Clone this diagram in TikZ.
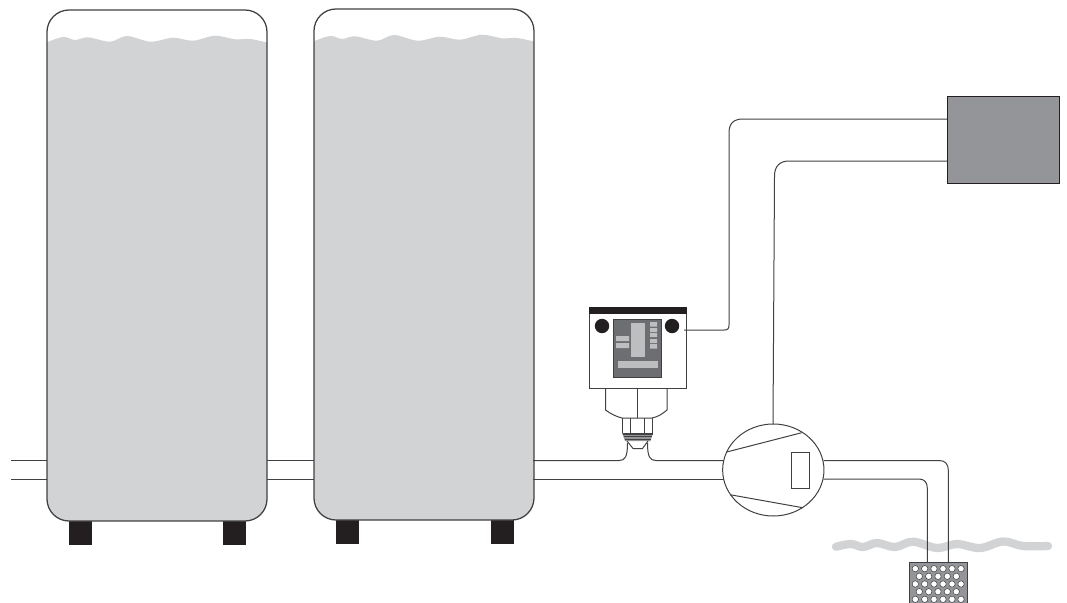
\documentclass[tikz,border=0pt]{standalone}
\usetikzlibrary{shapes.geometric}
\definecolor{tankgray}{HTML}{D1D3D4}
\definecolor{linegray}{HTML}{414042}
\definecolor{boxgray}{HTML}{939598}
\definecolor{panelgray}{HTML}{6D6E71}
\definecolor{barlight}{HTML}{BCBEC0}
\definecolor{legblack}{HTML}{231F20}
\newcommand{\tankwater}[2]{%
  \begin{scope}[shift={(#1,#2)}]
    \clip[rounded corners=16.5pt] (0,0) rectangle (220,511);
    \fill[tankgray] plot[smooth,tension=0.55] coordinates {(-2,33)(16,27)(28,30)(41,27.3)(63,31.7)(80,26)(103.7,31.7)(126,27.7)(146,30.7)(168,25.7)(188,29.3)(203,29)(222,33)}
       -- (222,520) -- (-2,520) -- cycle;
  \end{scope}}
\tikzset{
  pipe/.style={draw=linegray,line width=0.75pt},
  tank/.style={rectangle,rounded corners=16.5pt,draw=linegray,line width=0.95pt,inner sep=0pt,
     minimum width=165pt,minimum height=383.25pt},
  leg/.style={rectangle,fill=legblack,inner sep=0pt,minimum width=17.25pt,minimum height=18pt},
  lightbar/.style={fill=barlight},
  hole/.style={circle,draw=linegray,fill=white,line width=0.4pt,inner sep=0pt,minimum size=4.8pt},
  x=0.75pt,y=-0.75pt
}
\begin{document}
\begin{tikzpicture}
\useasboundingbox (0,0) rectangle (1067,603);
% pipe coordinates
\coordinate (inA) at (11,460.5);
\coordinate (inB) at (11,479);
\coordinate (tankALa) at (47,460.5);
\coordinate (tankALb) at (47,479);
\coordinate (tankARa) at (267,460.5);
\coordinate (tankARb) at (267,479);
\coordinate (tankBLa) at (315,460.5);
\coordinate (tankBLb) at (315,479);
\coordinate (tankBRa) at (533,460.5);
\coordinate (tankBRb) at (533,479);
\draw[pipe] (inA) -- (tankALa) (inB) -- (tankALb);
\draw[pipe] (tankARa) -- (tankBLa) (tankARb) -- (tankBLb);
% tanks
\node[leg] (legA1) at (80.5,533) {};
\node[leg] (legA2) at (234.5,533) {};
\node[leg] (legB1) at (347.5,532) {};
\node[leg] (legB2) at (502.5,532) {};
\tankwater{47}{10}
\tankwater{314}{9}
\node[tank] (tankA) at (157,265.5) {};
\node[tank] (tankB) at (424,264.5) {};
% pump
\node[ellipse,draw=linegray,line width=0.75pt,minimum width=76pt,minimum height=69pt,inner sep=0pt] (pump) at (773.3,470) {};
\node[rectangle,draw=linegray,line width=0.75pt,minimum width=13.5pt,minimum height=27pt,inner sep=0pt] (pumpwin) at (800.7,470.3) {};
\coordinate (pa) at (726.7,452);
\coordinate (pb) at (801.7,432.7);
\coordinate (pc) at (730,494.7);
\coordinate (pd) at (802.7,507.7);
\draw[pipe] (pa) -- (pb) (pc) -- (pd);
% pipes to the pump
\coordinate (pumpLa) at (723.5,460.5);
\coordinate (pumpLb) at (723.5,479);
\coordinate (pumpRa) at (823.5,460.5);
\coordinate (pumpRb) at (823.5,479);
\coordinate (portL) at (627.5,443);
\coordinate (portR) at (647.5,443);
\draw[pipe] (tankBRa) -- (619,460.5) .. controls (625,460.5) and (627.5,457) .. (portL);
\draw[pipe] (portR) .. controls (647.5,457) and (650,460.5) .. (656,460.5) -- (pumpLa);
\draw[pipe] (tankBRb) -- (pumpLb);
% water surface (under the pipes)
\draw[tankgray,line width=6.2pt,line cap=round] plot[smooth,tension=0.6] coordinates {(836,546.7)(851,544)(863,547)(877,543)(895,547)(913,541.7)(937,548)(957,544)(980,548)(1003,541.5)(1023,546)(1048,546)};
% suction pipes
\coordinate (stA) at (948.3,563);
\coordinate (stB) at (927.3,563);
\draw[pipe] (pumpRa) -- (939,460.5) .. controls (945,460.5) and (948.3,464) .. (948.3,470) -- (stA);
\draw[pipe] (pumpRb) -- (919,479) .. controls (924,479) and (927.3,482) .. (927.3,488) -- (stB);
% strainer
\node[rectangle,draw=linegray,line width=0.5pt,fill=boxgray,minimum width=43.5pt,minimum height=30.5pt,inner sep=0pt] (strainer) at (938,583) {};
\foreach \y in {568.7,584,599.3}{\foreach \x in {915.3,924.7,934,943,952,961}{\node[hole] at (\x,\y) {};}}
\foreach \y in {576.3,591.7}{\foreach \x in {919.3,928.7,938,947.3,956.3}{\node[hole] at (\x,\y) {};}}
% control box
\node[rectangle,draw=legblack,line width=0.6pt,fill=boxgray,minimum width=84pt,minimum height=65.25pt,inner sep=0pt] (ctrl) at (1003,139.5) {};
% pressure switch
\node[rectangle,draw=linegray,line width=0.75pt,fill=white,minimum width=72.75pt,minimum height=60.75pt,inner sep=0pt] (switch) at (637.5,347.5) {};
\fill[legblack] (588.5,306.5) rectangle (686.5,313.5);
\fill[legblack] (602,326) circle[radius=7.2] (672,326) circle[radius=7.2];
\node[rectangle,draw=linegray,line width=0.4pt,fill=panelgray,minimum width=36pt,minimum height=43.5pt,inner sep=0pt] (panel) at (637,348) {};
\fill[lightbar] (631,323) rectangle (645,357);
\fill[lightbar] (616,336) rectangle (629,341) (616,343) rectangle (629,348);
\fill[lightbar] (618,361) rectangle (658,368);
\fill[lightbar] (650,322) rectangle (657,326.5) (650,328) rectangle (657,332) (650,333) rectangle (657,337) (650,339) rectangle (657,343) (650,344) rectangle (657,348.5);
% switch body below
\coordinate (bL) at (605.5,388);
\coordinate (bR) at (667,388);
\coordinate (bC) at (637,388);
\coordinate (cC) at (637,418);
\draw[pipe] (bL) -- (605.5,410) .. controls (611,414) and (616,416.5) .. (622,418) -- (652,418) .. controls (659,416.5) and (662,414) .. (667,410) -- (bR);
\draw[pipe] (bC) -- (cC);
\draw[pipe] (622,418) -- (622,433) (652,418) -- (652,433) (630,418) -- (630,433) (644,418) -- (644,433);
\draw[pipe] (622,433) -- (652,433);
\fill[boxgray] (622,433) -- (653,433) -- (650.5,441) -- (625,441) -- cycle;
\draw[pipe,line width=1pt] (622.5,434) -- (652.5,434) (623.5,436.7) -- (651.5,436.7) (624.5,439.4) -- (650.5,439.4);
\draw[pipe] (627,441) -- (633,448.5) -- (642.5,448.5) -- (648,441);
% wires
\coordinate (wireA) at (684,330);
\coordinate (wireB) at (947,119);
\coordinate (wireC) at (773,424);
\coordinate (wireD) at (947,161);
\draw[pipe] (wireA) -- (724,330) .. controls (727.5,330) and (729,329) .. (729,325) -- (729,133) .. controls (729,124) and (733,119) .. (743,119) -- (wireB);
\draw[pipe] (wireC) -- (774.5,176) .. controls (774.5,166) and (780,161) .. (789,161) -- (wireD);
\end{tikzpicture}
\end{document}
